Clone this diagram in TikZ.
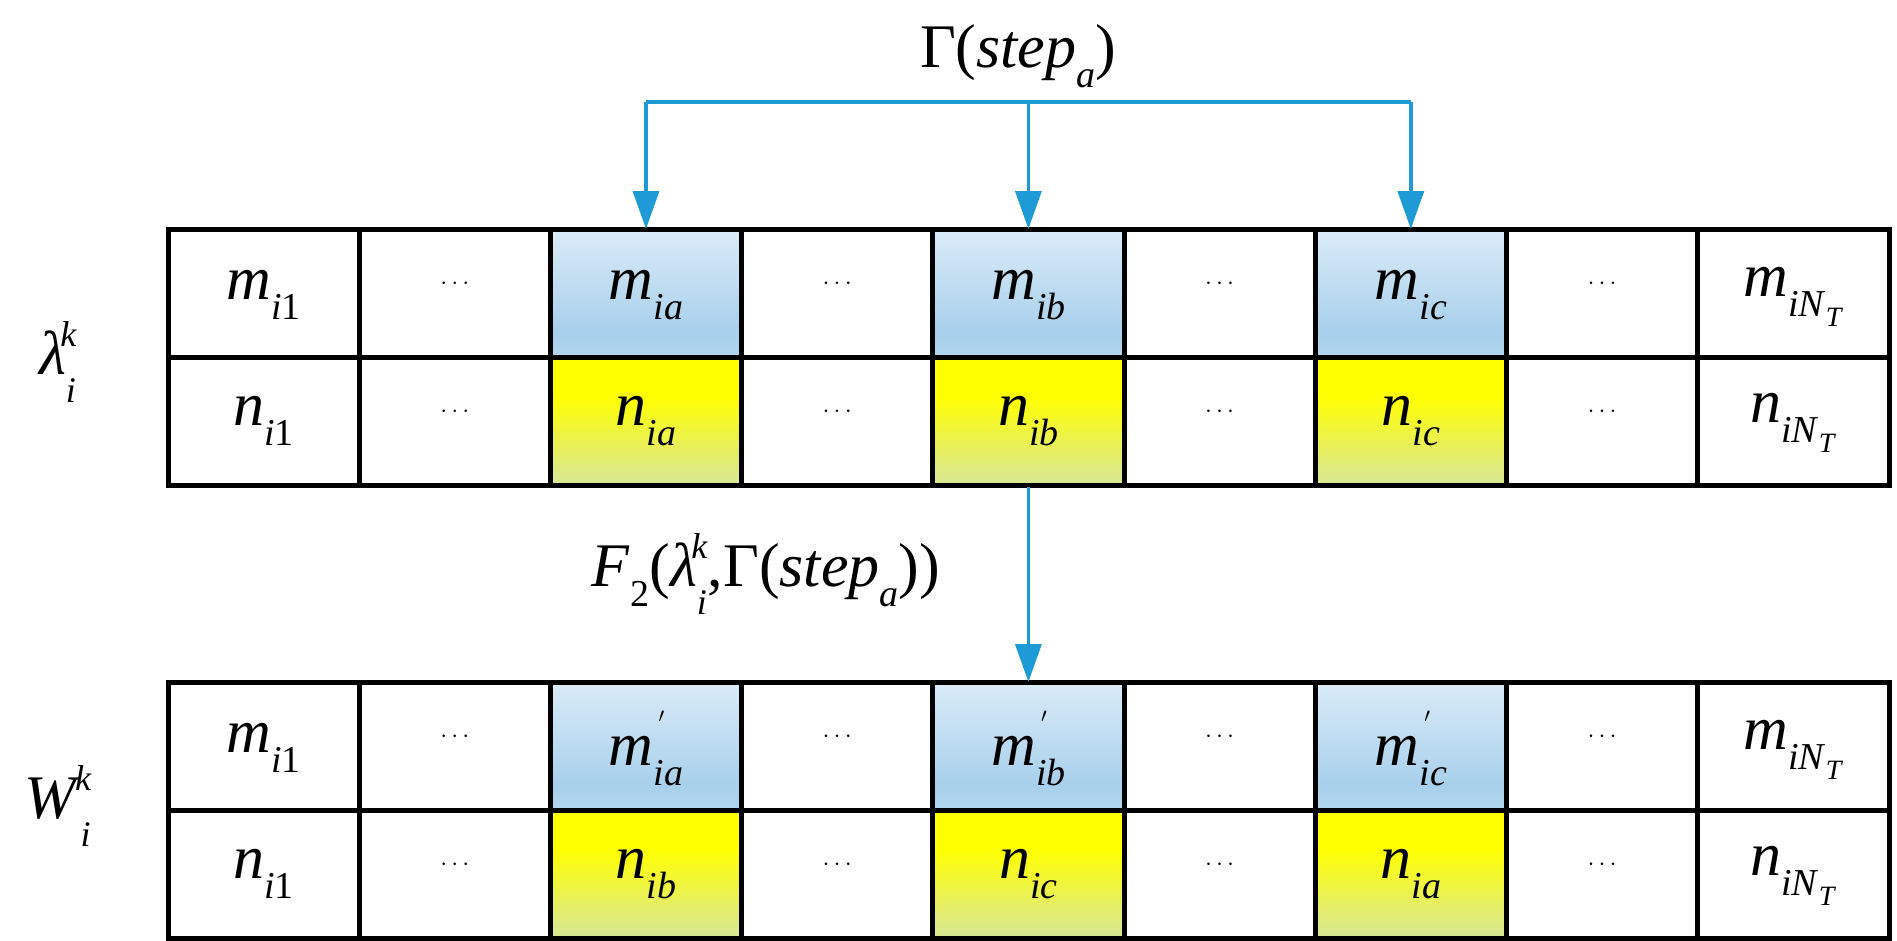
\documentclass[tikz,border=0pt]{standalone}
\usepackage{fontspec}
\setmainfont{Liberation Serif}
\usetikzlibrary{arrows.meta}
\definecolor{arr}{HTML}{1E9BD7}
\definecolor{c1}{HTML}{BBDBEE}\definecolor{c2}{HTML}{A8D0EC}\definecolor{c3}{HTML}{EEF6FC}
\definecolor{y1}{HTML}{C4E2E2}\definecolor{y2}{HTML}{E2EC70}\definecolor{y3}{HTML}{FFFF00}
\pgfdeclareverticalshading{blu}{100bp}{color(0bp)=(c1); color(15bp)=(c1); color(35bp)=(c2); color(90bp)=(c3); color(100bp)=(c3)}
\pgfdeclareverticalshading{yel}{100bp}{color(0bp)=(y1); color(5bp)=(y1); color(35bp)=(y2); color(60bp)=(y3); color(100bp)=(y3)}
\newcommand{\mysub}[1]{\raisebox{-0.32em}{\fontsize{38}{38}\selectfont #1}}
\newcommand{\cellm}[2]{\textit{#1}\mysub{\textit{#2}}}
\newcommand{\cellp}[2]{\textit{#1}\makebox[0pt][l]{\raisebox{0.55em}{\fontsize{30}{30}\selectfont\,$'$}}\mysub{\textit{#2}}}
\newcommand{\NT}{\textit{iN}\raisebox{-0.25em}{\fontsize{28}{28}\selectfont\textit{T}}}
\newcommand{\supsub}[2]{\raisebox{-0.45em}{\fontsize{36}{36}\selectfont\textit{#1}}\hspace{-0.25em}\raisebox{0.45em}{\fontsize{36}{36}\selectfont\textit{#2}}}
\begin{document}
\begin{tikzpicture}[x=1pt,y=-1pt,
  every node/.style={font=\fontsize{62}{62}\selectfont},
  grid/.style={line width=5pt},
  ar/.style={arr,line width=3.5pt,-{Triangle[length=38pt,width=26pt]}},
  txt/.style={inner sep=0pt}]
\useasboundingbox (0,0) rectangle (1897,940);
\def\cw{191.2}
\foreach \t/\yt in {A/229,B/682}{
  \foreach \c in {3,5,7}{
    \shade[shading=blu] ({168+(\c-1)*\cw},\yt) rectangle ({168+\c*\cw},\yt+128);
    \shade[shading=yel] ({168+(\c-1)*\cw},\yt+128) rectangle ({168+\c*\cw},\yt+256);
  }
  \draw[grid] (168,\yt) rectangle (1889,\yt+256);
  \draw[grid] (168,\yt+128) -- (1889,\yt+128);
  \foreach \c in {1,...,8}{\draw[grid] ({168+\c*\cw},\yt) -- ({168+\c*\cw},\yt+256);}
  \foreach \c in {2,4,6,8}{
    \node[txt] at ({168+(\c-0.5)*\cw},\yt+55) {$\cdots$};
    \node[txt] at ({168+(\c-0.5)*\cw},\yt+183) {$\cdots$};
  }
  \node[txt] at ({168+0.5*\cw},\yt+66) {\cellm{m}{i}\mysub{1}};
  \node[txt] at ({168+0.5*\cw},\yt+192) {\cellm{n}{i}\mysub{1}};
  \node[txt] at ({168+8.5*\cw},\yt+68) {\textit{m}\mysub{\NT}};
  \node[txt] at ({168+8.5*\cw},\yt+194) {\textit{n}\mysub{\NT}};
}
\node[txt] (ma) at ({168+2.5*\cw},295) {\cellm{m}{ia}};
\node[txt] (mb) at ({168+4.5*\cw},295) {\cellm{m}{ib}};
\node[txt] (mc) at ({168+6.5*\cw},295) {\cellm{m}{ic}};
\node[txt] at ({168+2.5*\cw},421) {\cellm{n}{ia}};
\node[txt] (nb) at ({168+4.5*\cw},421) {\cellm{n}{ib}};
\node[txt] at ({168+6.5*\cw},421) {\cellm{n}{ic}};
\node[txt] at ({168+2.5*\cw},748) {\cellp{m}{ia}};
\node[txt] at ({168+4.5*\cw},748) {\cellp{m}{ib}};
\node[txt] at ({168+6.5*\cw},748) {\cellp{m}{ic}};
\node[txt] at ({168+2.5*\cw},874) {\cellm{n}{ib}};
\node[txt] at ({168+4.5*\cw},874) {\cellm{n}{ic}};
\node[txt] at ({168+6.5*\cw},874) {\cellm{n}{ia}};
\node[txt] at (58,362) {\textit{λ}\supsub{i}{k}};
\node[txt] at (58,806) {\textit{W}\supsub{i}{k}};
\node[txt] (title) at (1018,56) {Γ(\textit{step}\mysub{\textit{a}})};
\node[txt] at (766,574) {\textit{F}\mysub{2}(\textit{λ}\supsub{i}{k},Γ(\textit{step}\mysub{\textit{a}}))};
\coordinate (ta) at ({168+2.5*\cw},229);
\coordinate (tb) at ({168+4.5*\cw},229);
\coordinate (tc) at ({168+6.5*\cw},229);
\coordinate (ba) at ({168+2.5*\cw},102);
\coordinate (bb) at ({168+4.5*\cw},102);
\coordinate (bc) at ({168+6.5*\cw},102);
\coordinate (m1) at ({168+4.5*\cw},487);
\coordinate (m2) at ({168+4.5*\cw},682);
\draw[arr,line width=3.5pt] (ba) -- (bc);
\draw[ar] (ba) -- (ta);
\draw[ar] (bb) -- (tb);
\draw[ar] (bc) -- (tc);
\draw[ar] (m1) -- (m2);
\end{tikzpicture}
\end{document}
